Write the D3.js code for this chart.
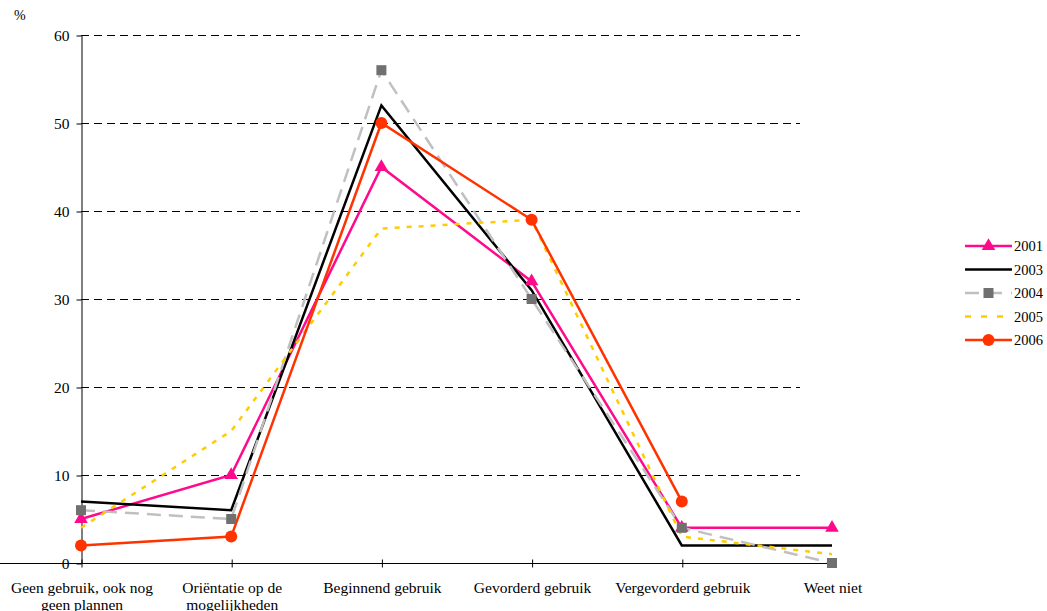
<!DOCTYPE html>
<html>
<head>
<meta charset="utf-8">
<script src="https://cdn.jsdelivr.net/npm/d3@7"></script>
<style>
  html, body { margin: 0; padding: 0; background: #fff; }
</style>
</head>
<body>
<svg id="chart" width="1047" height="611"></svg>
<script>
// Categories (x axis), each label split into display lines
const categories = [
  ["Geen gebruik, ook nog", "geen plannen"],
  ["Oriëntatie op de", "mogelijkheden"],
  ["Beginnend gebruik"],
  ["Gevorderd gebruik"],
  ["Vergevorderd gebruik"],
  ["Weet niet"]
];
const yTicks = [0, 10, 20, 30, 40, 50, 60];

// Series values (%), null = not reported
const years = ["2001", "2003", "2004", "2005", "2006"];
const v2001 = [5, 10, 45, 32, 4, 4];
const v2003 = [7, 6, 52, 31, 2, 2];
const v2004 = [6, 5, 56, 30, 4, 0];
const v2005 = [4, 15, 38, 39, 3, 1];
const v2006 = [2, 3, 50, 39, 7, null];

const FONT = '"Liberation Serif", "Times New Roman", Times, "DejaVu Serif", serif';

const series = [
  { name: years[0], values: v2001, color: "#ff0a8c", dash: null, marker: "triangle", mcolor: "#ff0a8c", width: 2.5 },
  { name: years[1], values: v2003, color: "#000000", dash: null, marker: null, width: 2.5 },
  { name: years[2], values: v2004, color: "#c0c0c0", dash: "14,8", marker: "square", mcolor: "#707070", width: 2.5 },
  { name: years[3], values: v2005, color: "#ffcc00", dash: "5,7", marker: null, width: 2.5 },
  { name: years[4], values: v2006, color: "#ff3300", dash: null, marker: "circle", mcolor: "#ff3300", width: 2.5 }
];

const svg = d3.select("#chart").attr("font-family", FONT);
const x = d3.scalePoint().domain(d3.range(categories.length)).range([81, 832]);
const y = d3.scaleLinear().domain([0, 60]).range([563, 35]);

// Horizontal dashed gridlines
svg.append("g").selectAll("line")
  .data(yTicks.filter(d => d > 0))
  .join("line")
  .attr("x1", 81).attr("x2", 800)
  .attr("y1", d => y(d) + 0.5).attr("y2", d => y(d) + 0.5)
  .attr("stroke", "#000").attr("stroke-width", 1)
  .attr("stroke-dasharray", "8,5");

// Y axis
const yAxis = svg.append("g")
  .attr("transform", "translate(81.5,0.5)")
  .call(d3.axisLeft(y).tickValues(yTicks).tickSize(5).tickSizeOuter(0).tickPadding(7));
yAxis.attr("font-family", FONT).attr("font-size", 15.5);
yAxis.select(".domain").attr("stroke", "#000");

// X axis
const xAxis = svg.append("g")
  .attr("transform", "translate(0.5,563.5)")
  .call(d3.axisBottom(x).tickSize(4).tickSizeOuter(0).tickFormat(() => ""));
xAxis.attr("font-family", FONT).attr("font-size", 15.5);
xAxis.select(".domain").attr("stroke", "#000").attr("d", `M-1,0H832`);
xAxis.selectAll(".tick line").attr("y1", -4).attr("y2", 4);
xAxis.selectAll(".tick").each(function(d) {
  const t = d3.select(this).select("text").attr("y", 0).attr("dy", null);
  categories[d].forEach((line, i) => {
    t.append("tspan").attr("x", 0).attr("y", 29 + i * 17).text(line);
  });
});

// Unit label
svg.append("text").attr("x", 14).attr("y", 20).attr("font-size", 14).text("%");

// Lines
const line = d3.line()
  .defined(d => d.v !== null)
  .x(d => x(d.i)).y(d => y(d.v));

const plot = svg.append("g");
series.forEach(s => {
  const pts = s.values.map((v, i) => ({ i, v }));
  plot.append("path")
    .datum(pts)
    .attr("d", line)
    .attr("fill", "none")
    .attr("stroke", s.color)
    .attr("stroke-width", s.width)
    .attr("stroke-linejoin", "miter")
    .attr("stroke-dasharray", s.dash);
});

function drawMarker(g, type, cx, cy, color) {
  if (type === "triangle") {
    g.append("path")
      .attr("d", d3.symbol(d3.symbolTriangle, 80)())
      .attr("transform", `translate(${cx},${cy})`)
      .attr("fill", color);
  } else if (type === "square") {
    g.append("rect").attr("x", cx - 5).attr("y", cy - 5).attr("width", 10).attr("height", 10).attr("fill", color);
  } else if (type === "circle") {
    g.append("circle").attr("cx", cx).attr("cy", cy).attr("r", 6).attr("fill", color);
  }
}

series.forEach(s => {
  if (!s.marker) return;
  const g = plot.append("g");
  s.values.forEach((v, i) => {
    if (v === null) return;
    drawMarker(g, s.marker, x(i), y(v), s.mcolor);
  });
});

// Legend
const legend = svg.append("g");
series.forEach((s, k) => {
  const ly = 246 + k * 23.5;
  legend.append("line")
    .attr("x1", 965).attr("x2", 1012).attr("y1", ly).attr("y2", ly)
    .attr("stroke", s.color).attr("stroke-width", s.width)
    .attr("stroke-dasharray", s.dash ? (s.name === "2004" ? "14,9" : "6,10") : null);
  if (s.marker) drawMarker(legend, s.marker, 988.5, ly, s.mcolor);
  legend.append("text")
    .attr("x", 1014).attr("y", ly + 5)
    .attr("font-size", 14.5)
    .text(s.name);
});
</script>
</body>
</html>
